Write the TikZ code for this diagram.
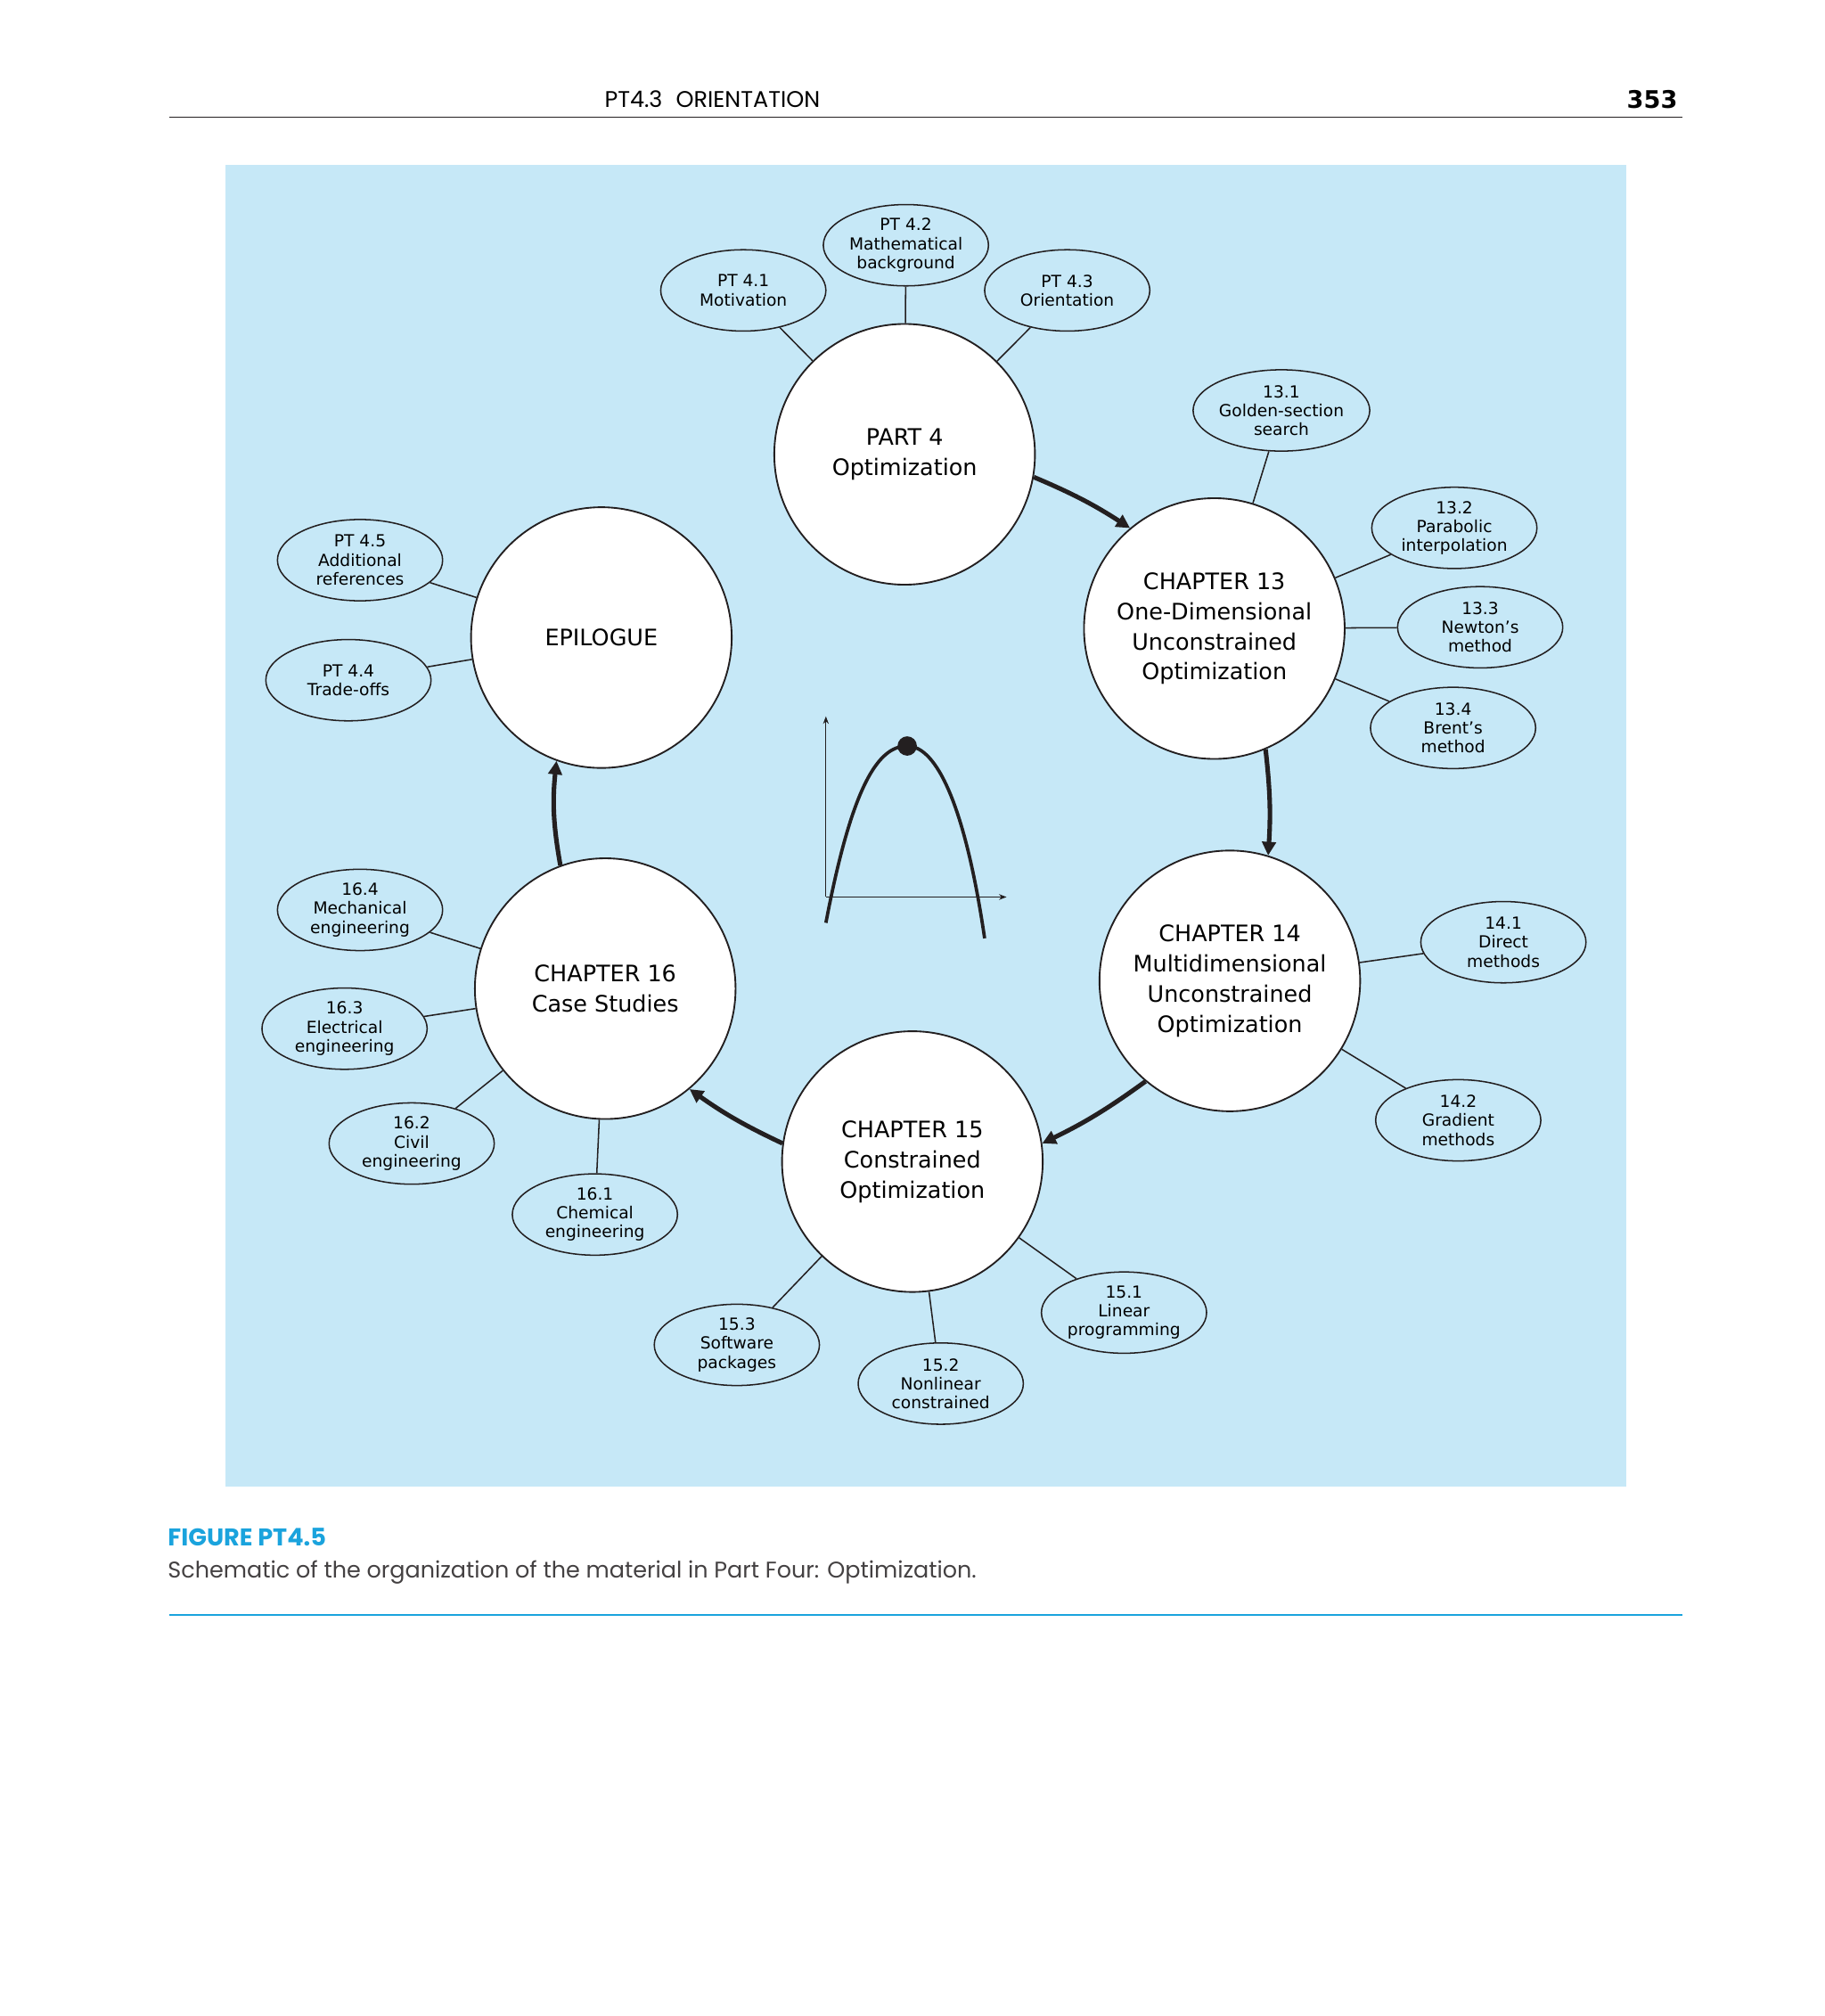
\documentclass[tikz,border=0pt]{standalone}
\usepackage{fontspec}
\setmainfont{DejaVu Sans}
\newfontfamily\capfont{Poppins}
\usetikzlibrary{arrows.meta,shapes.geometric}
\definecolor{bgblue}{HTML}{C6E8F7}
\definecolor{cyanc}{HTML}{1AA3DD}
\definecolor{ink}{HTML}{231F20}
\begin{document}
\begin{tikzpicture}[x=0.03cm,y=-0.03cm,
  big/.style={circle,draw=ink,fill=white,line width=1.1pt,minimum size=202*0.03cm,inner sep=0pt,align=center,font=\fontsize{15}{20}\selectfont},
  sm/.style={ellipse,draw=ink,line width=0.9pt,minimum width=128*0.03cm,minimum height=63*0.03cm,inner sep=0pt,align=center,font=\fontsize{11}{12.5}\selectfont},
  ln/.style={draw=ink,line width=0.9pt},
  arr/.style={draw=ink,line width=3pt,-{Triangle[length=9pt,width=9pt]}}]
\useasboundingbox (0,0) rectangle (1414,1562);
\fill[white] (0,0) rectangle (1414,1562);
% header
\node[font=\capfont\fontsize{15}{18}\selectfont] (hd) at (552,77) {PT4.3\hspace{0.6em}ORIENTATION};
\node[font=\bfseries\fontsize{16}{18}\selectfont,anchor=east] (pg) at (1304,77) {353};
\draw[ink,line width=0.8pt] (131,91) -- (1304,91);
\fill[bgblue] (175,128) rectangle (1260,1152);
% caption
\node[anchor=west,text=cyanc,font=\capfont\bfseries\fontsize{16}{18}\selectfont] (fig) at (126,1191) {FIGURE PT4.5};
\node[anchor=west,font=\capfont\fontsize{15}{18}\selectfont,text=ink!85] (cap) at (126,1218) {Schematic of the organization of the material in Part Four: Optimization.};
\draw[cyanc,line width=1.2pt] (131,1251) -- (1304,1251);
% big circles
\node[big] (p4) at (701,352) {PART 4\\Optimization};
\node[big] (c13) at (941,487) {CHAPTER 13\\One-Dimensional\\Unconstrained\\Optimization};
\node[big] (c14) at (953,760) {CHAPTER 14\\Multidimensional\\Unconstrained\\Optimization};
\node[big] (c15) at (707,900) {CHAPTER 15\\Constrained\\Optimization};
\node[big] (c16) at (469,766) {CHAPTER 16\\Case Studies};
\node[big] (ep) at (466,494) {EPILOGUE};
% small ellipses
\node[sm] (a1) at (576,225) {PT 4.1\\Motivation};
\node[sm] (a2) at (702,190) {PT 4.2\\Mathematical\\background};
\node[sm] (a3) at (827,225) {PT 4.3\\Orientation};
\node[sm] (b1) at (993,318) {13.1\\Golden-section\\search};
\node[sm] (b2) at (1127,409) {13.2\\Parabolic\\interpolation};
\node[sm] (b3) at (1147,486) {13.3\\Newton's\\method};
\node[sm] (b4) at (1126,564) {13.4\\Brent's\\method};
\node[sm] (d1) at (1165,730) {14.1\\Direct\\methods};
\node[sm] (d2) at (1130,868) {14.2\\Gradient\\methods};
\node[sm] (e1) at (871,1017) {15.1\\Linear\\programming};
\node[sm] (e2) at (729,1072) {15.2\\Nonlinear\\constrained};
\node[sm] (e3) at (571,1042) {15.3\\Software\\packages};
\node[sm] (f1) at (461,941) {16.1\\Chemical\\engineering};
\node[sm] (f2) at (319,886) {16.2\\Civil\\engineering};
\node[sm] (f3) at (267,797) {16.3\\Electrical\\engineering};
\node[sm] (f4) at (279,705) {16.4\\Mechanical\\engineering};
\node[sm] (g5) at (279,434) {PT 4.5\\Additional\\references};
\node[sm] (g4) at (270,527) {PT 4.4\\Trade-offs};
% connectors
\foreach \a/\b in {p4/a1,p4/a2,p4/a3,c13/b1,c13/b2,c13/b3,c13/b4,c14/d1,c14/d2,c15/e1,c15/e2,c15/e3,c16/f1,c16/f2,c16/f3,c16/f4,ep/g5,ep/g4}
  \draw[ln] (\a) -- (\b);
% arrows
\draw[arr] (p4.-10) to[bend left=5] (c13.130);
\draw[arr] (c13.-67) to[bend left=5] (c14.73);
\draw[arr] (c14.-130) to[bend left=5] (c15.8);
\draw[arr] (c15.172) to[bend left=5] (c16.-50);
\draw[arr] (c16.110) to[bend left=8] (ep.-110);
% small plot
\coordinate (o) at (640,695);
\coordinate (yt) at (640,555);
\coordinate (xt) at (780,695);
\draw[ink,line width=0.6pt,-{Stealth[length=5pt]}] (o) -- (yt);
\draw[ink,line width=0.6pt,-{Stealth[length=5pt]}] (o) -- (xt);
\coordinate (pk) at (703,578);
\draw[ink,line width=2.2pt] (640,715) .. controls (660,610) and (680,578) .. (pk) .. controls (726,578) and (748,625) .. (763,727);
\fill[ink] (pk) circle (7.5);
\end{tikzpicture}
\end{document}
